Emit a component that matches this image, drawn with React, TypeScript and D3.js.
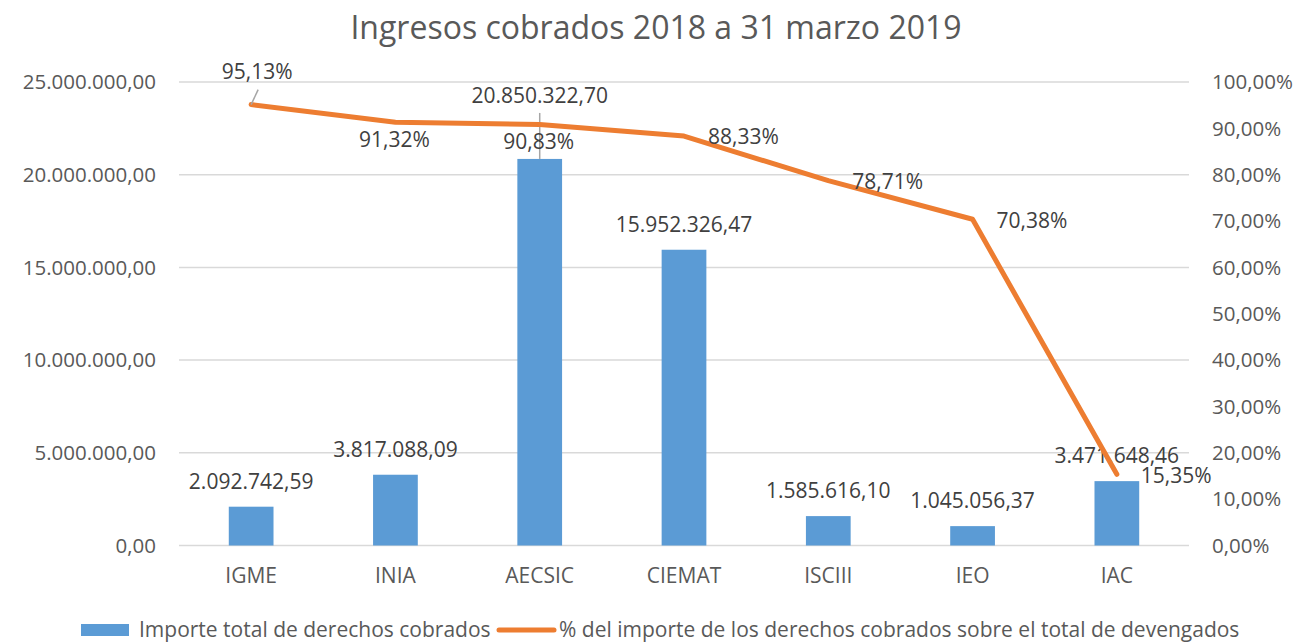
import React, { useMemo } from 'react';
import * as d3 from 'd3';

// chart data
const categories = ['IGME', 'INIA', 'AECSIC', 'CIEMAT', 'ISCIII', 'IEO', 'IAC'];
const importes = [2092742.59, 3817088.09, 20850322.70, 15952326.47, 1585616.10, 1045056.37, 3471648.46];
const porcentajes = [95.13, 91.32, 90.83, 88.33, 78.71, 70.38, 15.35];
const title = 'Ingresos cobrados 2018 a 31 marzo 2019';
const seriesNames = ['Importe total de derechos cobrados', '% del importe de los derechos cobrados sobre el total de devengados'];
const leftMax = 25000000;
const rightMax = 100;

// where Excel put each % label (relative to its point)
const pctPlacement = ['above', 'below', 'below', 'right', 'right', 'right', 'right'];
// bar labels dragged away from the bar (gets a leader line)
const liftedBarLabels = ['AECSIC'];

const width = 1299;
const height = 642;
const plot = { left: 179, right: 1189, top: 82, bottom: 545.5 };

const font = '"Open Sans", "Noto Sans", sans-serif';
const labelColor = '#404040';
const axisColor = '#595959';
const barColor = '#5b9bd5';
const lineColor = '#ed7d31';
const gridColor = '#d9d9d9';

const es = d3.formatLocale({ decimal: ',', thousands: '.', grouping: [3], currency: ['', ' €'] });
const fmtNum = es.format(',.2f');
const fmtPct = (v: number) => es.format(',.2f')(v) + '%';

export default function App() {
    const x = useMemo(() => d3.scaleBand<string>()
        .domain(categories)
        .range([plot.left, plot.right])
        .paddingInner(0.69)
        .paddingOuter(0.345), []);
    const yLeft = useMemo(() => d3.scaleLinear().domain([0, leftMax]).range([plot.bottom, plot.top]), []);
    const yRight = useMemo(() => d3.scaleLinear().domain([0, rightMax]).range([plot.bottom, plot.top]), []);

    const cx = (c: string) => (x(c) ?? 0) + x.bandwidth() / 2;

    const line = d3.line<number>()
        .x((d, i) => cx(categories[i]))
        .y(d => yRight(d));

    const leftTicks = yLeft.ticks(5);
    const rightTicks = yRight.ticks(10);

    return (
        <svg width={width} height={height} style={{ position: 'absolute', left: 0, top: 0, background: '#fff' }}
            fontFamily={font}>
            <text x={656} y={28} dy="0.35em" textAnchor="middle" fontSize={32} fill={axisColor}>{title}</text>

            {/* gridlines */}
            {leftTicks.map(t => (
                <line key={'g' + t} x1={plot.left} x2={plot.right} y1={yLeft(t)} y2={yLeft(t)}
                    stroke={gridColor} strokeWidth={1.5} />
            ))}

            {/* left axis */}
            {leftTicks.map(t => (
                <text key={'l' + t} x={156} y={yLeft(t)} dy="0.35em" textAnchor="end" fontSize={20.5} fill={axisColor}>
                    {fmtNum(t)}
                </text>
            ))}

            {/* right axis */}
            {rightTicks.map(t => (
                <text key={'r' + t} x={1212} y={yRight(t)} dy="0.35em" textAnchor="start" fontSize={20.5} fill={axisColor}>
                    {fmtPct(t)}
                </text>
            ))}

            {/* categories */}
            {categories.map(c => (
                <text key={'c' + c} x={cx(c)} y={576} dy="0.35em" textAnchor="middle" fontSize={21} fill={axisColor}>{c}</text>
            ))}

            {/* bars */}
            {importes.map((v, i) => (
                <rect key={'b' + i} x={x(categories[i])} y={yLeft(v)} width={x.bandwidth()}
                    height={yLeft(0) - yLeft(v)} fill={barColor} />
            ))}

            {/* bar labels */}
            {importes.map((v, i) => {
                const c = categories[i];
                const top = yLeft(v);
                const lifted = liftedBarLabels.includes(c);
                const ly = lifted ? top - 63 : top - 25;
                return (
                    <g key={'bl' + i}>
                        {lifted && <line x1={cx(c)} x2={cx(c)} y1={ly + 17} y2={top} stroke="#a6a6a6" strokeWidth={1.5} />}
                        <text x={cx(c)} y={ly} dy="0.35em" textAnchor="middle" fontSize={21} fill={labelColor}>
                            {fmtNum(v)}
                        </text>
                    </g>
                );
            })}

            {/* % line */}
            <path d={line(porcentajes) ?? ''} fill="none" stroke={lineColor} strokeWidth={5}
                strokeLinejoin="round" strokeLinecap="round" />

            {/* % labels */}
            {porcentajes.map((v, i) => {
                const px = cx(categories[i]);
                const py = yRight(v);
                const pos = pctPlacement[i];
                if (pos === 'above') {
                    return (
                        <g key={'pl' + i}>
                            <line x1={px + 7} y1={py - 15} x2={px} y2={py} stroke="#a6a6a6" strokeWidth={1.5} />
                            <text x={px + 6} y={py - 33} dy="0.35em" textAnchor="middle" fontSize={21} fill={labelColor}>
                                {fmtPct(v)}
                            </text>
                        </g>
                    );
                }
                if (pos === 'below') {
                    return (
                        <text key={'pl' + i} x={px - 1} y={py + 17} dy="0.35em" textAnchor="middle" fontSize={21} fill={labelColor}>
                            {fmtPct(v)}
                        </text>
                    );
                }
                return (
                    <text key={'pl' + i} x={px + 24} y={py + 1} dy="0.35em" textAnchor="start" fontSize={21} fill={labelColor}>
                        {fmtPct(v)}
                    </text>
                );
            })}

            {/* legend */}
            <g fontSize={21} fill={axisColor}>
                <rect x={81} y={624} width={48} height={12} fill={barColor} />
                <text x={139} y={630} dy="0.35em">{seriesNames[0]}</text>
                <line x1={499} x2={554} y1={630} y2={630} stroke={lineColor} strokeWidth={5} strokeLinecap="round" />
                <text x={559} y={630} dy="0.35em">{seriesNames[1]}</text>
            </g>
        </svg>
    );
}
